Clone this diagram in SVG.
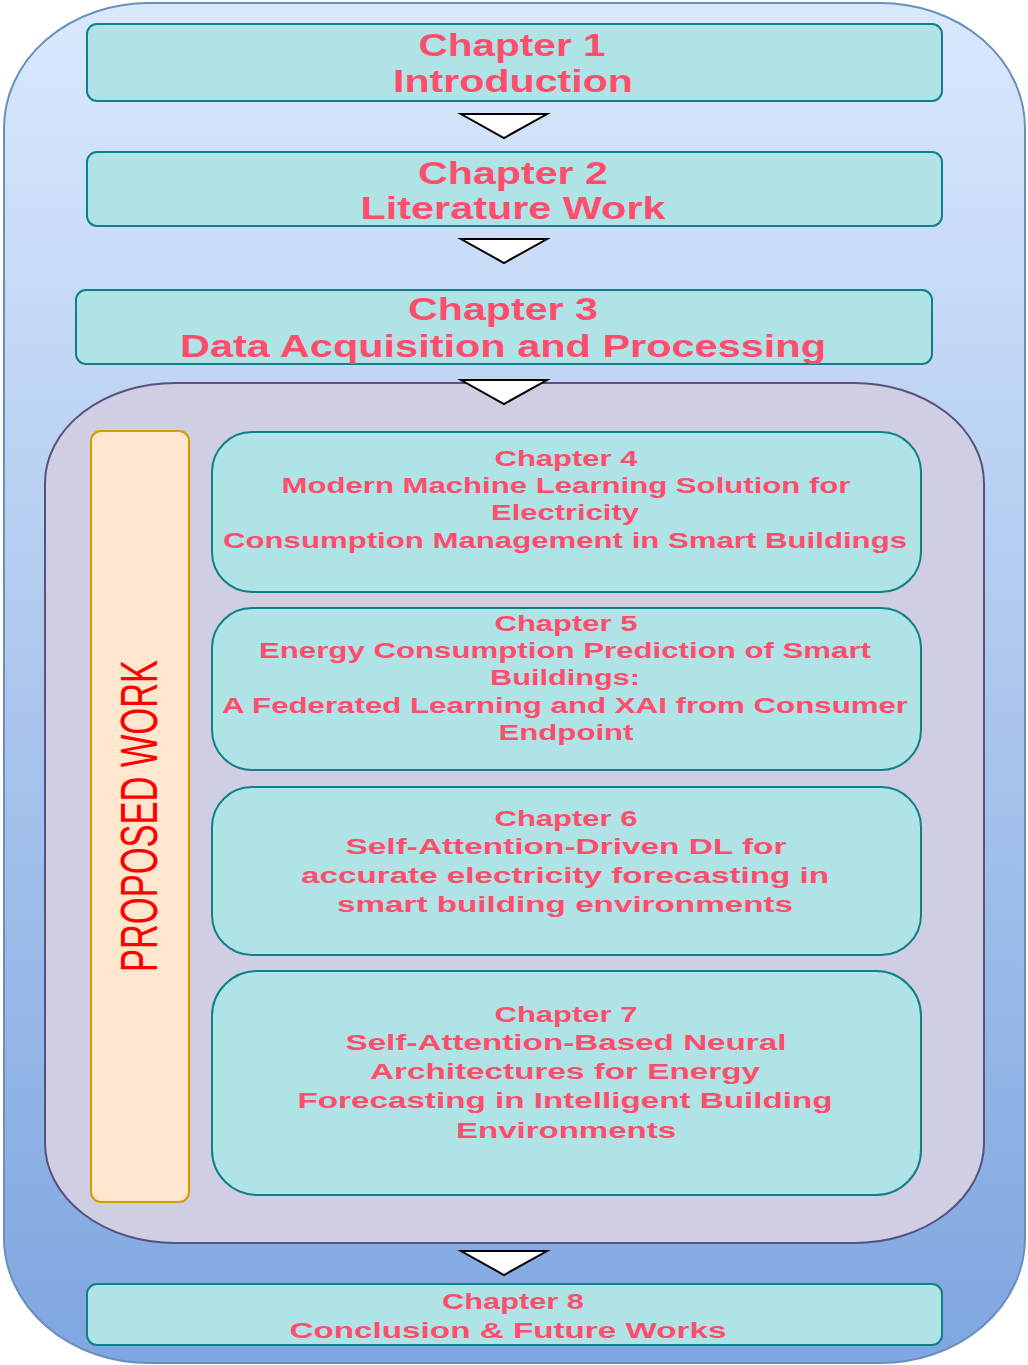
<svg xmlns="http://www.w3.org/2000/svg" width="1028" height="1365" viewBox="0 0 1028 1365">
<defs>
<linearGradient id="bg" x1="0" y1="0" x2="0" y2="1">
<stop offset="0" stop-color="#dae8fc"/>
<stop offset="1" stop-color="#7ea6e0"/>
</linearGradient>
</defs>
<style>
.box{fill:#b0e3e6;stroke:#0e8088;stroke-width:2}
.t{font-family:"Liberation Sans",Arial,sans-serif;font-weight:bold;fill:#ff4d6d;text-anchor:middle}
.big{font-size:31px}
.mid{font-size:22px}
.tri{fill:#ffffff;stroke:#000000;stroke-width:2;stroke-linejoin:miter}
</style>
<g id="outer">
<rect x="4" y="3" width="1021" height="1360" rx="145" ry="125" fill="url(#bg)" stroke="#6c8ebf" stroke-width="2"/>
</g>
<g id="proposed-container">
<rect x="45" y="383" width="939" height="860" rx="130" ry="100" fill="#d0cee2" stroke="#56517e" stroke-width="2"/>
</g>
<g id="ch1">
<rect class="box" x="87" y="24" width="855" height="77" rx="10"/>
<text class="t big" x="512" y="56" textLength="187" lengthAdjust="spacingAndGlyphs">Chapter 1</text>
<text class="t big" x="513" y="92" textLength="240" lengthAdjust="spacingAndGlyphs">Introduction</text>
</g>
<g id="ch2">
<rect class="box" x="87" y="152" width="855" height="74" rx="10"/>
<text class="t big" x="513" y="184" textLength="190" lengthAdjust="spacingAndGlyphs">Chapter 2</text>
<text class="t big" x="513" y="219" textLength="305" lengthAdjust="spacingAndGlyphs">Literature Work</text>
</g>
<g id="ch3">
<rect class="box" x="76" y="290" width="856" height="74" rx="10"/>
<text class="t big" x="503" y="320" textLength="190" lengthAdjust="spacingAndGlyphs">Chapter 3</text>
<text class="t big" x="503" y="357" textLength="646" lengthAdjust="spacingAndGlyphs">Data Acquisition and Processing</text>
</g>
<g id="proposed-work">
<rect x="91" y="431" width="98" height="771" rx="10" fill="#ffe6cc" stroke="#d79b00" stroke-width="2"/>
<text x="0" y="0" transform="translate(157,816) rotate(-90)" font-family="'Liberation Sans',Arial,sans-serif" font-size="51" fill="#ff0000" text-anchor="middle" textLength="312" lengthAdjust="spacingAndGlyphs">PROPOSED WORK</text>
</g>
<g id="ch4">
<rect class="box" x="212" y="432" width="709" height="160" rx="40" ry="40"/>
<text class="t mid" x="566" y="466" textLength="143" lengthAdjust="spacingAndGlyphs">Chapter 4</text>
<text class="t mid" x="566" y="493" textLength="569" lengthAdjust="spacingAndGlyphs">Modern Machine Learning Solution for</text>
<text class="t mid" x="565" y="520" textLength="148" lengthAdjust="spacingAndGlyphs">Electricity</text>
<text class="t mid" x="565" y="548" textLength="684" lengthAdjust="spacingAndGlyphs">Consumption Management in Smart Buildings</text>
</g>
<g id="ch5">
<rect class="box" x="212" y="608" width="709" height="162" rx="40" ry="40"/>
<text class="t mid" x="566" y="631" textLength="143" lengthAdjust="spacingAndGlyphs">Chapter 5</text>
<text class="t mid" x="565" y="658" textLength="612" lengthAdjust="spacingAndGlyphs">Energy Consumption Prediction of Smart</text>
<text class="t mid" x="565" y="685" textLength="150" lengthAdjust="spacingAndGlyphs">Buildings:</text>
<text class="t mid" x="565" y="713" textLength="686" lengthAdjust="spacingAndGlyphs">A Federated Learning and XAI from Consumer</text>
<text class="t mid" x="566" y="740" textLength="135" lengthAdjust="spacingAndGlyphs">Endpoint</text>
</g>
<g id="ch6">
<rect class="box" x="212" y="787" width="709" height="168" rx="40" ry="40"/>
<text class="t mid" x="566" y="826" textLength="143" lengthAdjust="spacingAndGlyphs">Chapter 6</text>
<text class="t mid" x="566" y="854" font-size="24" textLength="441" lengthAdjust="spacingAndGlyphs">Self-Attention-Driven DL for</text>
<text class="t mid" x="565" y="883" font-size="24" textLength="528" lengthAdjust="spacingAndGlyphs">accurate electricity forecasting in</text>
<text class="t mid" x="565" y="912" font-size="24" textLength="456" lengthAdjust="spacingAndGlyphs">smart building environments</text>
</g>
<g id="ch7">
<rect class="box" x="212" y="971" width="709" height="224" rx="45" ry="45"/>
<text class="t mid" x="566" y="1022" textLength="143" lengthAdjust="spacingAndGlyphs">Chapter 7</text>
<text class="t mid" x="566" y="1050" font-size="24" textLength="441" lengthAdjust="spacingAndGlyphs">Self-Attention-Based Neural</text>
<text class="t mid" x="565" y="1079" font-size="24" textLength="390" lengthAdjust="spacingAndGlyphs">Architectures for Energy</text>
<text class="t mid" x="565" y="1108" font-size="24" textLength="535" lengthAdjust="spacingAndGlyphs">Forecasting in Intelligent Building</text>
<text class="t mid" x="566" y="1138" font-size="24" textLength="220" lengthAdjust="spacingAndGlyphs">Environments</text>
</g>
<g id="ch8">
<rect class="box" x="87" y="1284" width="855" height="61" rx="10"/>
<text class="t mid" x="513" y="1309" font-size="23" textLength="142" lengthAdjust="spacingAndGlyphs">Chapter 8</text>
<text class="t mid" x="508" y="1338" font-size="23" textLength="437" lengthAdjust="spacingAndGlyphs">Conclusion &amp; Future Works</text>
</g>
<g id="connectors">
<polygon class="tri" points="461,114 547,114 504,138"/>
<polygon class="tri" points="461,239 547,239 504,263"/>
<polygon class="tri" points="461,380 547,380 504,404"/>
<polygon class="tri" points="461,1251 547,1251 504,1275"/>
</g>
</svg>
